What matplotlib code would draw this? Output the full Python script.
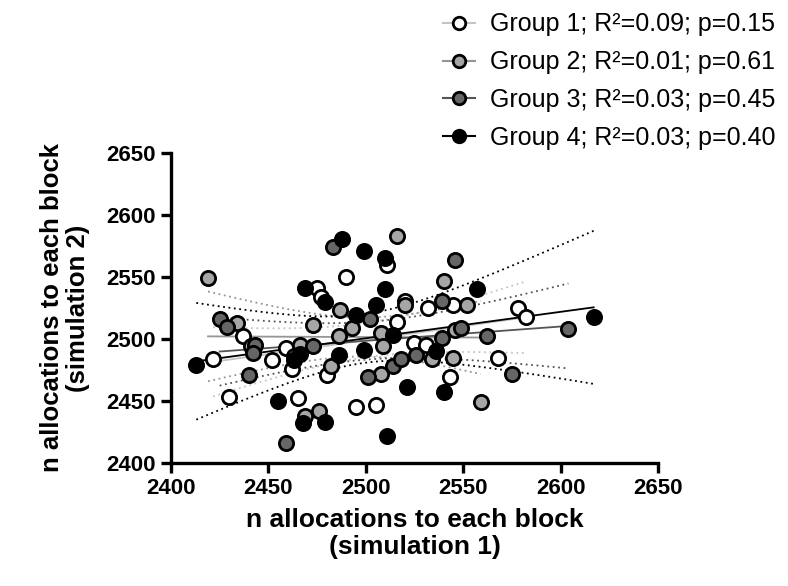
import numpy as np
import matplotlib.pyplot as plt
from matplotlib.lines import Line2D

plt.rcParams['font.family'] = ['Liberation Sans', 'DejaVu Sans']

# Group 1 (white)
g1_x = [2421.6, 2430, 2437, 2459, 2452, 2462, 2465, 2495, 2505, 2480, 2490, 2511,
        2475, 2477, 2520, 2516, 2525, 2532, 2545, 2578, 2582, 2568, 2543, 2531]
g1_y = [2484, 2453, 2502, 2493, 2483, 2476, 2452, 2445, 2447, 2471, 2550, 2560,
        2541, 2534, 2531, 2514, 2497, 2525, 2527, 2525, 2518, 2485, 2469, 2495]
# Group 2 (light grey)
g2_x = [2419, 2434, 2516, 2487, 2473, 2493, 2486, 2508, 2466, 2482, 2469, 2476,
        2509, 2508, 2540, 2552, 2546, 2534, 2545, 2559, 2520, 2441]
g2_y = [2549, 2513, 2583, 2523, 2511, 2509, 2502, 2505, 2495, 2478, 2438, 2442,
        2494, 2472, 2547, 2527, 2507, 2484, 2485, 2449, 2527, 2494]
# Group 3 (dark grey)
g3_x = [2425, 2429, 2443, 2442, 2440, 2459, 2502, 2501, 2514, 2518, 2526, 2483,
        2546, 2539, 2539, 2549, 2562, 2604, 2575, 2473, 2463]
g3_y = [2516, 2510, 2495, 2489, 2471, 2416, 2516, 2469, 2478, 2484, 2487, 2574,
        2564, 2531, 2501, 2509, 2502, 2508, 2472, 2494, 2486]
# Group 4 (black)
g4_x = [2413, 2455, 2486, 2499, 2521, 2468, 2479, 2511, 2495, 2505, 2463, 2488,
        2499, 2510, 2469, 2479, 2510, 2514, 2557, 2617, 2540, 2536, 2466]
g4_y = [2479, 2450, 2487, 2491, 2461, 2432, 2433, 2422, 2519, 2527, 2483, 2581,
        2571, 2565, 2541, 2530, 2540, 2503, 2540, 2518, 2457, 2490, 2488]

labels = ['Group 1; R²=0.09; p=0.15', 'Group 2; R²=0.01; p=0.61',
          'Group 3; R²=0.03; p=0.45', 'Group 4; R²=0.03; p=0.40']
fills = ['white', '#a6a6a6', '#666666', 'black']
line_cols = ['#c4c4c4', '#959595', '#555555', 'black']

groups = [(g1_x, g1_y), (g2_x, g2_y), (g3_x, g3_y), (g4_x, g4_y)]

fig = plt.figure(figsize=(7.88, 5.86), dpi=100)
ax = fig.add_axes([0.217, 0.210, 0.618, 0.529])

# fits and 95% bands
for (gx, gy), lc in zip(groups, line_cols):
    x = np.array(gx, float)
    y = np.array(gy, float)
    n = len(x)
    b, a = np.polyfit(x, y, 1)
    xs = np.linspace(x.min(), x.max(), 100)
    yh = a + b * xs
    res = y - (a + b * x)
    s = np.sqrt(np.sum(res**2) / (n - 2))
    sxx = np.sum((x - x.mean())**2)
    half = 2.07 * s * np.sqrt(1.0 / n + (xs - x.mean())**2 / sxx)
    ax.plot(xs, yh, color=lc, lw=1.3, zorder=2)
    ax.plot(xs, yh + half, color=lc, lw=1.3, ls=(0, (1, 2)), zorder=2)
    ax.plot(xs, yh - half, color=lc, lw=1.3, ls=(0, (1, 2)), zorder=2)

for (gx, gy), fc in zip(groups, fills):
    ax.scatter(gx, gy, s=105, c=fc, edgecolors='black', linewidths=2.0, zorder=3)

ax.set_xlim(2400, 2650)
ax.set_ylim(2400, 2650)
ax.set_xticks(np.arange(2400, 2651, 50))
ax.set_yticks(np.arange(2400, 2651, 50))
for sp in ['top', 'right']:
    ax.spines[sp].set_visible(False)
for sp in ['left', 'bottom']:
    ax.spines[sp].set_linewidth(2.4)
ax.tick_params(width=2.4, length=7, labelsize=16, pad=4)
for t in ax.get_xticklabels() + ax.get_yticklabels():
    t.set_fontweight('bold')

ax.set_xlabel('n allocations to each block\n(simulation 1)', fontsize=19,
              fontweight='bold', labelpad=6, linespacing=1.2)
ax.set_ylabel('n allocations to each block\n(simulation 2)', fontsize=18.5,
              fontweight='bold', labelpad=12, linespacing=1.1)

handles = [Line2D([0], [0], color=lc, lw=1.5, marker='o', markersize=9,
                  markerfacecolor=fc, markeredgecolor='black', markeredgewidth=2)
           for fc, lc in zip(fills, line_cols)]
fig.legend(handles, labels, loc='upper right', bbox_to_anchor=(1.0, 1.0),
           frameon=False, fontsize=18, handlelength=1.3, labelspacing=0.55,
           handletextpad=0.6, borderaxespad=0.1)

plt.savefig('out.png', dpi=100)
